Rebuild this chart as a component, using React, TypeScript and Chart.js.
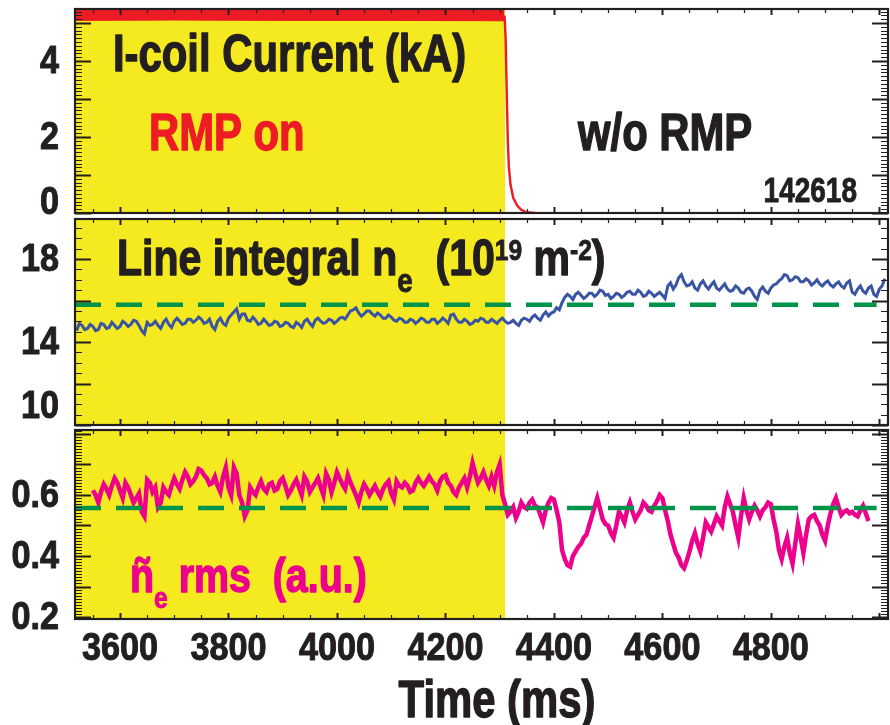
import React, { useEffect, useRef } from "react";
import { Chart, registerables } from "chart.js";

Chart.register(...registerables);

// ---- shared time axis (ms) ----
const T_MIN = 3517;
const T_MAX = 5016;
const TIME_TICK_LABELS = [3600, 3800, 4000, 4200, 4400, 4600, 4800];
const X_MAJOR = 200;
const X_MINOR = 50;
const RMP_OFF_TIME = 4310; // end of the RMP-on phase (shaded)

// ---- panel 1: I-coil current (kA) ----
const COIL_BAND_T = [3517, 3700, 3900, 4100, 4309];
const COIL_BAND_HI = [5.37, 5.37, 5.37, 5.37, 5.37];
const COIL_BAND_LO = [5.07, 5.08, 5.07, 5.07, 5.06];
const COIL_DROP_T = [4309, 4311, 4313, 4315, 4317, 4320, 4325, 4332, 4340, 4350, 4365];
const COIL_DROP_I = [5.2, 4.6, 3.2, 1.9, 1.2, 0.75, 0.4, 0.2, 0.08, 0.02, 0];
const COIL_TICK_LABELS = [0, 2, 4];

// ---- panel 2: line integral density (1e19 m^-2), sampled every 5 ms ----
const NE_T0 = 3520;
const NE_DT = 5;
const NE_VALUES = [
  14.55, 14.9, 14.8, 14.6, 14.65, 14.85, 14.75, 14.55, 14.6, 14.9, 14.85, 14.65, 14.7, 14.95, 14.8, 14.65, 14.75, 15.0, 14.9, 14.75,
  14.85, 15.05, 15.0, 14.8, 14.55, 14.4, 14.95, 14.8, 14.85, 15.0, 14.8, 14.65, 14.95, 15.1, 14.85, 14.7, 15.0, 15.15, 15.0, 14.85,
  14.9, 15.1, 15.1, 14.95, 15.05, 15.2, 15.1, 14.9, 14.95, 15.1, 14.75, 14.6, 15.0, 15.15, 14.9, 14.8, 15.15, 15.3, 15.45, 15.6,
  15.1, 15.35, 15.35, 15.05, 15.0, 15.2, 15.05, 14.85, 14.9, 15.1, 14.95, 14.8, 14.85, 15.0, 14.95, 14.75, 14.8, 14.95, 14.9, 14.75,
  14.7, 14.95, 14.85, 14.7, 15.0, 15.1, 14.9, 14.75, 15.05, 15.15, 15.0, 14.9, 14.95, 15.1, 15.05, 14.9, 15.0, 15.15, 15.2, 15.1,
  15.3, 15.5, 15.55, 15.65, 15.4, 15.25, 15.35, 15.5, 15.5, 15.35, 15.25, 15.4, 15.3, 15.15, 15.15, 15.3, 15.2, 15.05, 15.0, 15.15,
  15.1, 14.95, 14.95, 15.1, 15.05, 14.9, 15.0, 15.15, 15.1, 14.95, 14.95, 15.1, 15.1, 14.9, 15.0, 15.15, 15.05, 14.9, 15.3, 15.35,
  15.1, 14.95, 14.95, 15.1, 15.0, 14.85, 14.9, 15.05, 15.0, 15.15, 15.1, 14.95, 14.95, 15.1, 15.0, 14.9, 15.05, 15.15, 15.0, 14.9,
  14.95, 15.05, 14.9, 14.8, 15.05, 15.15, 15.1, 15.0, 15.2, 15.3, 15.15, 15.05, 15.3, 15.45, 15.25, 15.4, 15.45, 15.65, 15.55, 15.9,
  16.15, 16.3, 16.2, 16.05, 16.3, 16.4, 16.25, 16.1, 16.2, 16.35, 16.35, 16.2, 16.3, 16.5, 16.45, 16.25, 16.3, 16.1, 16.2, 16.35,
  16.3, 16.15, 16.25, 16.4, 16.45, 16.3, 16.3, 16.5, 16.4, 16.2, 16.25, 16.45, 16.35, 16.2, 16.3, 16.4, 16.25, 16.1, 16.7, 16.85,
  16.55, 16.75, 17.1, 17.25, 16.9, 16.7, 16.75, 16.9, 16.6, 16.5, 16.8, 16.95, 16.7, 16.55, 16.75, 16.9, 16.6, 16.5, 16.65, 16.8,
  16.55, 16.45, 16.5, 16.7, 16.6, 16.4, 16.35, 16.55, 16.6, 16.45, 16.2, 16.05, 16.5, 16.65, 16.45, 16.35, 16.6, 16.75, 16.8, 16.95,
  17.05, 17.25, 17.2, 16.95, 17.0, 17.15, 17.1, 16.9, 16.9, 17.05, 16.95, 16.75, 16.85, 17.0, 16.8, 16.7, 16.85, 16.95, 16.75, 16.65,
  16.8, 16.9, 16.7, 16.6, 16.85, 16.95, 16.4, 16.3, 16.55, 16.7, 16.45, 16.35, 16.6, 16.7, 16.3, 16.2, 16.55, 16.7, 17.05,
];
const NE_REF = 15.8;
const NE_TICK_LABELS = [10, 14, 18];

// ---- panel 3: density fluctuation rms (a.u.), sampled every 5 ms ----
const RMS_T0 = 3550;
const RMS_DT = 5;
const RMS_VALUES = [
  0.615, 0.6, 0.575, 0.61, 0.635, 0.62, 0.6, 0.63, 0.655, 0.64, 0.615, 0.59, 0.64, 0.625, 0.6, 0.575, 0.59, 0.605, 0.545, 0.53,
  0.65, 0.64, 0.61, 0.625, 0.56, 0.575, 0.625, 0.61, 0.6, 0.63, 0.655, 0.635, 0.62, 0.65, 0.675, 0.66, 0.635, 0.645, 0.66, 0.685,
  0.68, 0.665, 0.655, 0.635, 0.64, 0.66, 0.63, 0.61, 0.66, 0.69, 0.625, 0.6, 0.69, 0.67, 0.6, 0.575, 0.53, 0.55, 0.625, 0.61,
  0.6, 0.625, 0.645, 0.62, 0.61, 0.635, 0.64, 0.615, 0.62, 0.645, 0.655, 0.63, 0.6, 0.615, 0.635, 0.65, 0.625, 0.6, 0.66, 0.645,
  0.61, 0.625, 0.64, 0.655, 0.625, 0.6, 0.67, 0.65, 0.61, 0.64, 0.675, 0.655, 0.635, 0.62, 0.665, 0.64, 0.62, 0.6, 0.575, 0.61,
  0.635, 0.62, 0.6, 0.615, 0.63, 0.61, 0.595, 0.62, 0.635, 0.645, 0.605, 0.585, 0.645, 0.63, 0.625, 0.64, 0.63, 0.61, 0.615, 0.64,
  0.655, 0.64, 0.63, 0.645, 0.66, 0.645, 0.635, 0.615, 0.645, 0.66, 0.665, 0.64, 0.63, 0.61, 0.6, 0.625, 0.64, 0.655, 0.625, 0.66,
  0.705, 0.67, 0.64, 0.655, 0.675, 0.65, 0.63, 0.66, 0.63, 0.675, 0.7, 0.6, 0.57, 0.535, 0.545, 0.56, 0.525, 0.545, 0.575, 0.56,
  0.555, 0.575, 0.585, 0.565, 0.56, 0.535, 0.51, 0.55, 0.575, 0.59, 0.585, 0.55, 0.51, 0.42, 0.39, 0.37, 0.365, 0.4, 0.415, 0.43,
  0.44, 0.46, 0.47, 0.5, 0.53, 0.56, 0.59, 0.555, 0.52, 0.505, 0.5, 0.475, 0.46, 0.5, 0.545, 0.53, 0.51, 0.55, 0.575, 0.545,
  0.52, 0.535, 0.55, 0.575, 0.565, 0.55, 0.545, 0.565, 0.58, 0.6, 0.59, 0.55, 0.515, 0.47, 0.44, 0.41, 0.395, 0.37, 0.36, 0.385,
  0.415, 0.45, 0.475, 0.44, 0.415, 0.46, 0.51, 0.495, 0.48, 0.505, 0.53, 0.515, 0.5, 0.56, 0.595, 0.57, 0.545, 0.5, 0.46, 0.53,
  0.59, 0.55, 0.52, 0.545, 0.565, 0.55, 0.53, 0.55, 0.56, 0.575, 0.57, 0.52, 0.48, 0.42, 0.39, 0.43, 0.46, 0.41, 0.375, 0.44,
  0.505, 0.46, 0.41, 0.47, 0.52, 0.53, 0.535, 0.515, 0.5, 0.47, 0.45, 0.5, 0.54, 0.57, 0.59, 0.56, 0.535, 0.545, 0.55, 0.54,
  0.545, 0.535, 0.53, 0.55, 0.565, 0.54, 0.515,
];
const RMS_REF = 0.557;
const RMS_TICK_LABELS = [0.2, 0.4, 0.6];

// reference levels span
const REF_T = [3517, 4995];

// ---- styling ----
const DARK = "#231F20";
const YELLOW = "#F4EA1F";
const RED = "#ED1C24";
const BLUE = "#3A54A4";
const MAGENTA = "#EC008C";
const GREEN = "#00944A";
const FONT_FAMILY = '"Liberation Sans", Arial, sans-serif';
const font = (px: number) => `bold ${px}px ${FONT_FAMILY}`;
const SX_TITLE = 0.82; // condensed look for the large captions
const SX_TICK = 0.9;
const SX_ID = 0.8;

const W = 890;
const PLOT_LEFT = 75;
const PLOT_RIGHT_PAD = 2;
const Y_LABEL_RIGHT = 59;

type Run = { text: string; size: number; dy?: number };

// draws heavy, horizontally condensed text; returns the drawn width
function condensedText(
  ctx: CanvasRenderingContext2D,
  text: string,
  x: number,
  y: number,
  size: number,
  sx: number,
  align: "left" | "center" | "right" = "left",
  weight = 1.1
) {
  ctx.save();
  ctx.font = font(size);
  ctx.textAlign = "left";
  ctx.textBaseline = "alphabetic";
  const w = ctx.measureText(text).width * sx;
  const left = align === "right" ? x - w : align === "center" ? x - w / 2 : x;
  ctx.translate(left, y);
  ctx.scale(sx, 1);
  ctx.fillText(text, 0, 0);
  if (weight > 0) {
    ctx.strokeStyle = ctx.fillStyle as string;
    ctx.lineWidth = weight;
    ctx.lineJoin = "round";
    ctx.strokeText(text, 0, 0);
  }
  ctx.restore();
  return w;
}

function drawRuns(ctx: CanvasRenderingContext2D, x: number, y: number, runs: Run[], color: string) {
  ctx.save();
  ctx.fillStyle = color;
  let cx = x;
  for (const r of runs) {
    cx += condensedText(ctx, r.text, cx, y + (r.dy || 0), r.size, SX_TITLE, "left", r.size > 40 ? 1.4 : 0.9);
  }
  ctx.restore();
}

const pts = (t: number[], v: number[]) => t.map((x, i) => ({ x, y: v[i] }));
const sampled = (t0: number, dt: number, v: number[]) => v.map((y, i) => ({ x: t0 + i * dt, y }));

interface PanelSpec {
  yMin: number;
  yMax: number;
  yMajor: number;
  yMinor: number;
  yLabels: number[];
  yDecimals: number;
  yLabelMaxBaseline?: number;
  timeLabels: boolean;
  annotate: (ctx: CanvasRenderingContext2D) => void;
}

function panelPlugin(spec: PanelSpec) {
  return {
    id: "panelFrame",
    beforeDatasetsDraw(chart: any) {
      const { ctx, chartArea: a, scales } = chart;
      const xEnd = scales.x.getPixelForValue(RMP_OFF_TIME);
      ctx.save();
      ctx.fillStyle = YELLOW;
      ctx.fillRect(a.left, a.top, xEnd - a.left, a.bottom - a.top);
      ctx.restore();
    },
    afterDatasetsDraw(chart: any) {
      const { ctx, chartArea: a, scales } = chart;
      const xs = scales.x;
      const ys = scales.y;
      ctx.save();
      ctx.strokeStyle = DARK;

      const major = new Path2D();
      const minor = new Path2D();
      // time ticks, inward on top and bottom edges
      const rx = Math.round(X_MAJOR / X_MINOR);
      for (let k = Math.ceil(T_MIN / X_MINOR); k * X_MINOR <= T_MAX; k++) {
        const px = Math.round(xs.getPixelForValue(k * X_MINOR)) + 0.5;
        const isMajor = k % rx === 0;
        const p = isMajor ? major : minor;
        const len = isMajor ? 6 : 4;
        p.moveTo(px, a.bottom);
        p.lineTo(px, a.bottom - len);
        p.moveTo(px, a.top);
        p.lineTo(px, a.top + len);
      }
      // value ticks, inward on left and right edges
      const ry = Math.round(spec.yMajor / spec.yMinor);
      for (let k = Math.ceil(spec.yMin / spec.yMinor - 1e-9); k * spec.yMinor <= spec.yMax + 1e-9; k++) {
        const py = Math.round(ys.getPixelForValue(k * spec.yMinor)) + 0.5;
        const isMajor = k % ry === 0;
        const p = isMajor ? major : minor;
        const len = isMajor ? 16 : 7;
        p.moveTo(a.left, py);
        p.lineTo(a.left + len, py);
        p.moveTo(a.right, py);
        p.lineTo(a.right - len, py);
      }
      ctx.lineWidth = 1.2;
      ctx.stroke(minor);
      ctx.lineWidth = 2;
      ctx.stroke(major);

      // frame
      ctx.lineWidth = 2.2;
      ctx.strokeRect(a.left, a.top, a.right - a.left, a.bottom - a.top);

      // value labels
      ctx.fillStyle = DARK;
      for (const v of spec.yLabels) {
        let base = ys.getPixelForValue(v) + 12;
        if (spec.yLabelMaxBaseline !== undefined) base = Math.min(base, spec.yLabelMaxBaseline);
        condensedText(ctx, v.toFixed(spec.yDecimals), Y_LABEL_RIGHT, base, 38, SX_TICK, "right", 1);
      }

      // time labels and axis title
      if (spec.timeLabels) {
        for (const t of TIME_TICK_LABELS) {
          condensedText(ctx, String(t), xs.getPixelForValue(t), a.bottom + 41, 38, SX_TICK, "center", 1);
        }
        condensedText(ctx, "Time (ms)", 497, a.bottom + 98, 51, SX_TITLE, "center", 1.4);
      }
      ctx.restore();

      spec.annotate(ctx);
    },
  };
}

function buildChart(
  canvas: HTMLCanvasElement,
  datasets: any[],
  spec: PanelSpec,
  padTop: number,
  padBottom: number
) {
  return new Chart(canvas, {
    type: "line",
    data: { datasets },
    options: {
      responsive: false,
      animation: false,
      devicePixelRatio: 1,
      layout: { padding: { left: PLOT_LEFT, right: PLOT_RIGHT_PAD, top: padTop, bottom: padBottom } },
      plugins: { legend: { display: false }, tooltip: { enabled: false } },
      elements: { point: { radius: 0 }, line: { tension: 0 } },
      scales: {
        x: { type: "linear", min: T_MIN, max: T_MAX, display: false },
        y: { type: "linear", min: spec.yMin, max: spec.yMax, display: false },
      },
    },
    plugins: [panelPlugin(spec)],
  } as any);
}

const refLine = (level: number) => ({
  data: pts(REF_T, REF_T.map(() => level)),
  borderColor: GREEN,
  borderWidth: 4.5,
  borderDash: [26, 15],
  borderCapStyle: "butt",
  fill: false,
});

export default function App() {
  const c1 = useRef<HTMLCanvasElement>(null);
  const c2 = useRef<HTMLCanvasElement>(null);
  const c3 = useRef<HTMLCanvasElement>(null);

  useEffect(() => {
    const coil = buildChart(
      c1.current!,
      [
        { data: pts(COIL_DROP_T, COIL_DROP_I), borderColor: RED, borderWidth: 2.4, fill: false },
        { data: pts(COIL_BAND_T, COIL_BAND_HI), borderColor: RED, borderWidth: 1, fill: false },
        {
          data: pts(COIL_BAND_T, COIL_BAND_LO),
          borderColor: RED,
          borderWidth: 1,
          backgroundColor: RED,
          fill: "-1",
        },
      ],
      {
        yMin: 0,
        yMax: 5.37,
        yMajor: 1,
        yMinor: 0.1,
        yLabels: COIL_TICK_LABELS,
        yDecimals: 0,
        yLabelMaxBaseline: 214,
        timeLabels: false,
        annotate: (ctx) => {
          drawRuns(ctx, 113, 71, [{ text: "I-coil Current (kA)", size: 51 }], DARK);
          drawRuns(ctx, 149, 150, [{ text: "RMP on", size: 51 }], RED);
          drawRuns(ctx, 578, 150, [{ text: "w/o RMP", size: 51 }], DARK);
          ctx.save();
          ctx.fillStyle = DARK;
          condensedText(ctx, "142618", 857, 202, 35, SX_ID, "right", 0.9);
          ctx.restore();
        },
      },
      9,
      3
    );

    const density = buildChart(
      c2.current!,
      [
        refLine(NE_REF),
        { data: sampled(NE_T0, NE_DT, NE_VALUES), borderColor: BLUE, borderWidth: 3, fill: false },
      ],
      {
        yMin: 10,
        yMax: 19.93,
        yMajor: 2,
        yMinor: 0.5,
        yLabels: NE_TICK_LABELS,
        yDecimals: 0,
        yLabelMaxBaseline: 202,
        timeLabels: false,
        annotate: (ctx) => {
          drawRuns(
            ctx,
            117,
            59,
            [
              { text: "Line integral n", size: 50 },
              { text: "e", size: 34, dy: 17 },
              { text: "  (10", size: 50 },
              { text: "19", size: 30, dy: -15 },
              { text: " m", size: 50 },
              { text: "-2", size: 30, dy: -15 },
              { text: ")", size: 50 },
            ],
            DARK
          );
        },
      },
      3,
      3
    );

    const rms = buildChart(
      c3.current!,
      [
        refLine(RMS_REF),
        { data: sampled(RMS_T0, RMS_DT, RMS_VALUES), borderColor: MAGENTA, borderWidth: 4.5, fill: false },
      ],
      {
        yMin: 0.1935,
        yMax: 0.813,
        yMajor: 0.1,
        yMinor: 0.01,
        yLabels: RMS_TICK_LABELS,
        yDecimals: 1,
        timeLabels: true,
        annotate: (ctx) => {
          drawRuns(
            ctx,
            130,
            164,
            [
              { text: "ñ", size: 48 },
              { text: "e", size: 30, dy: 16 },
              { text: " rms  (a.u.)", size: 48 },
            ],
            MAGENTA
          );
        },
      },
      2,
      106
    );

    return () => {
      coil.destroy();
      density.destroy();
      rms.destroy();
    };
  }, []);

  const place = (top: number, h: number): React.CSSProperties => ({
    position: "absolute",
    left: 0,
    top,
    width: W,
    height: h,
    display: "block",
  });

  return (
    <div style={{ position: "absolute", left: 0, top: 0, width: W, height: 725, background: "#fff" }}>
      <canvas ref={c1} width={W} height={216} style={place(0, 216)} />
      <canvas ref={c2} width={W} height={212} style={place(216, 212)} />
      <canvas ref={c3} width={W} height={297} style={place(428, 297)} />
    </div>
  );
}
